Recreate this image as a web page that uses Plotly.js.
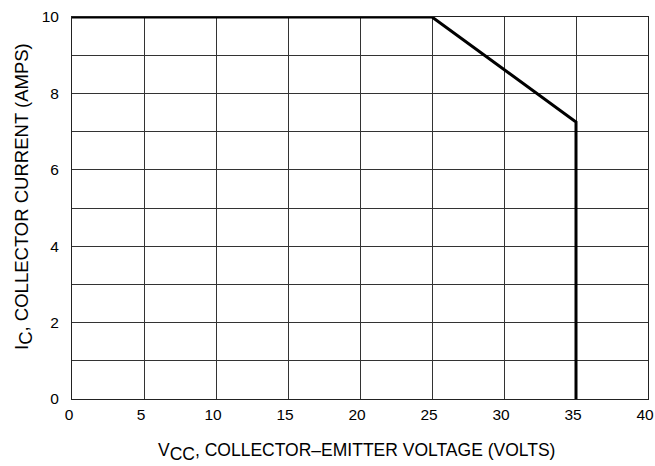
<!DOCTYPE html>
<html><head><meta charset="utf-8">
<script src="https://cdn.plot.ly/plotly-3.0.1.min.js"></script>
<style>html,body{margin:0;padding:0;background:#fff;}</style>
</head><body>
<div id="chart" style="width:655px;height:466px;"></div>
<script>
const vce = [0, 25, 35, 35];
const ic = [10, 10, 7.25, 0];
const xTicks = [0, 5, 10, 15, 20, 25, 30, 35, 40];
const yTicks = [0, 2, 4, 6, 8, 10];
const xTitle = 'V<sub><span style="font-size:17.5px">CC</span></sub>, COLLECTOR–EMITTER VOLTAGE (VOLTS)';
const yTitle = 'I<sub><span style="font-size:18.5px">C</span></sub>, COLLECTOR CURRENT (AMPS)';

const fam = 'Liberation Sans, Arial, sans-serif';
const tickFont = {family: fam, size: 15.5, color: '#000'};
const xTitleFont = {family: fam, size: 17.5, color: '#000'};
const yTitleFont = {family: fam, size: 18.5, color: '#000'};
Plotly.newPlot('chart', [{
  x: vce, y: ic, type: 'scatter', mode: 'lines',
  line: {color: '#000', width: 3}, hoverinfo: 'skip', showlegend: false
}], {
  width: 655, height: 466,
  margin: {l: 72, r: 7, t: 17, b: 67},
  paper_bgcolor: '#fff', plot_bgcolor: '#fff',
  font: tickFont,
  xaxis: {
    range: [0, 40], tickvals: xTicks, ticklabeloverflow: 'allow', ticklabelshift: -3,
    showgrid: true, gridcolor: '#333', gridwidth: 1,
    zeroline: false, showline: true, linecolor: '#222', linewidth: 1, mirror: true,
    ticks: '', ticklen: 0, tickfont: tickFont, ticklabelstandoff: 1
  },
  yaxis: {
    range: [0, 10], tickvals: yTicks, ticklabeloverflow: 'allow',
    minor: {dtick: 1, tick0: 0, showgrid: true, gridcolor: '#333', gridwidth: 1, ticks: ''},
    showgrid: true, gridcolor: '#333', gridwidth: 1,
    zeroline: true, zerolinecolor: '#000', zerolinewidth: 3,
    showline: true, linecolor: '#222', linewidth: 1, mirror: true,
    ticks: '', ticklen: 0, tickfont: tickFont, ticklabelstandoff: 9
  },
  annotations: [
    {text: xTitle, xref: 'paper', yref: 'paper', x: 0.5, y: 0, xanchor: 'center', yanchor: 'middle',
     xshift: -4, yshift: -53, showarrow: false, font: xTitleFont},
    {text: yTitle, xref: 'paper', yref: 'paper', x: 0, y: 0.529, xanchor: 'center', yanchor: 'middle',
     xshift: -48, showarrow: false, textangle: -90, font: yTitleFont}
  ]
}, {staticPlot: true});
</script>
</body></html>
